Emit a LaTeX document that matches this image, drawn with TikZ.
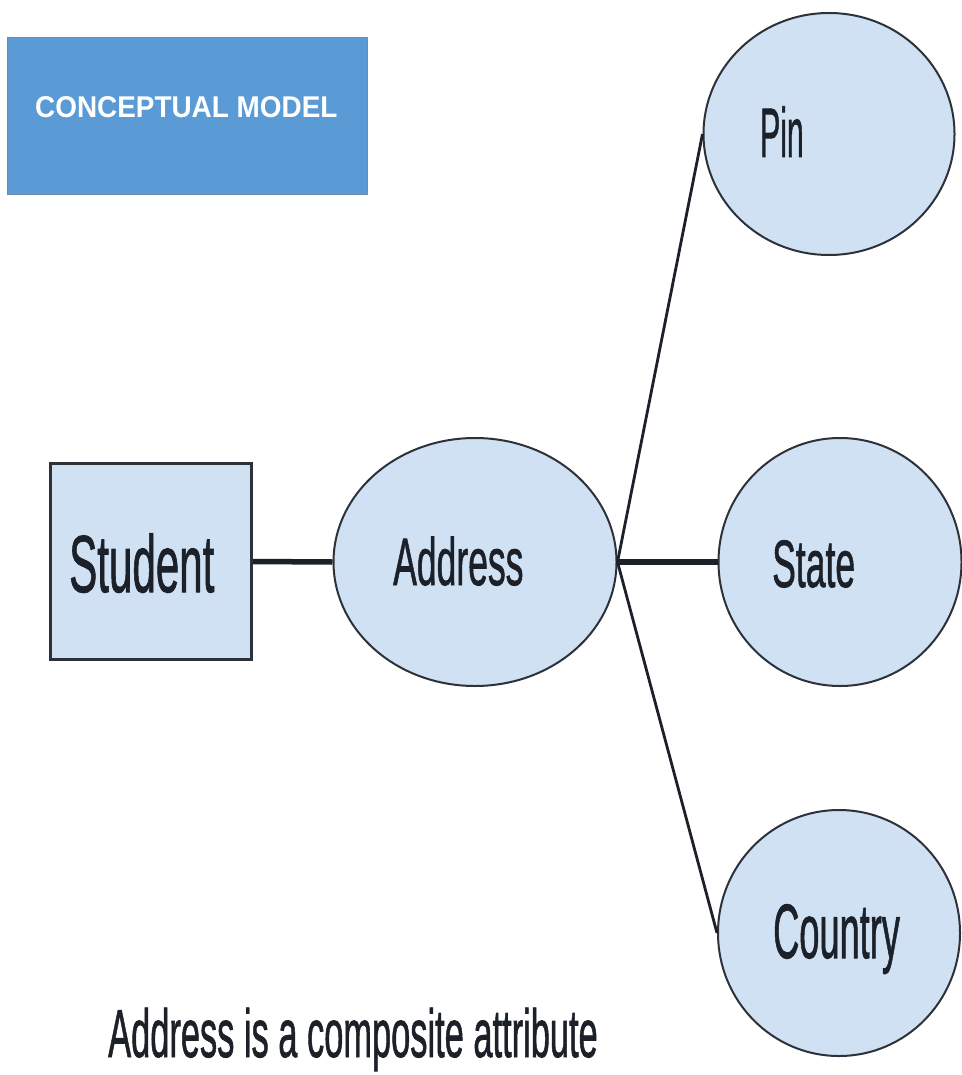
\documentclass[tikz,border=0pt]{standalone}
\usepackage{fontspec}
\setmainfont{Liberation Sans}
\newfontfamily\heavyfont{Liberation Sans}[FakeBold=1.3]
\usetikzlibrary{shapes.geometric}
\definecolor{attrfill}{RGB}{207,225,243}
\definecolor{edgegray}{RGB}{45,50,58}
\definecolor{titleblue}{RGB}{91,155,213}
\definecolor{titleedge}{RGB}{110,140,170}
\definecolor{inkdark}{RGB}{28,32,40}
\newcommand\sqz[3]{\scalebox{#1}[1]{\fontsize{#2}{#2}\selectfont #3}}
\begin{document}
\begin{tikzpicture}[x=1pt,y=-1pt,
  attr/.style={ellipse, draw=edgegray, line width=2pt, fill=attrfill, inner sep=0pt},
  entity/.style={rectangle, draw=edgegray, line width=3pt, fill=attrfill, inner sep=0pt},
  lbl/.style={anchor=base west, inner sep=0pt, text=inkdark, font=\heavyfont},
  thinlink/.style={line width=2.8pt, draw=inkdark},
  thicklink/.style={line width=5.5pt, draw=inkdark}]
\useasboundingbox (0,0) rectangle (961,1075);
% title box
\node[draw=titleedge, fill=titleblue, line width=1pt, minimum width=360pt, minimum height=157pt, inner sep=0pt] (title) at (187.5,116) {};
\node[anchor=base west, inner sep=0pt, text=white] (titlet) at (35,118) {\sqz{0.93}{30}{\bfseries CONCEPTUAL MODEL}};
% entity and attributes
\node[entity, minimum width=201pt, minimum height=196pt] (student) at (151,561.5) {};
\node[attr, minimum width=283pt, minimum height=248pt] (addr) at (475,562) {};
\node[attr, minimum width=251pt, minimum height=242pt] (pin) at (829,134) {};
\node[attr, minimum width=243pt, minimum height=248pt] (state) at (840,562) {};
\node[attr, minimum width=242pt, minimum height=246pt] (country) at (839,933) {};
% texts
\node[lbl] (studentt) at (69,592) {\sqz{0.52}{81}{Student}};
\node[lbl] (addrt) at (393,585) {\sqz{0.53}{67}{Address}};
\node[lbl] (pint) at (760,157) {\sqz{0.43}{70}{Pin}};
\node[lbl] (statet) at (772,587) {\sqz{0.53}{67}{State}};
\node[lbl] (countryt) at (773,958) {\sqz{0.47}{77}{Country}};
\node[lbl] (caption) at (108,1057) {\sqz{0.506}{68}{Address is a composite attribute}};
% connectors
\draw[thicklink] (student.east) -- (addr.west);
\draw[thicklink] (addr.east) -- (state.west);
\draw[thinlink] (addr.east) -- (pin.west);
\draw[thinlink] (addr.east) -- (country.west);
\end{tikzpicture}
\end{document}
